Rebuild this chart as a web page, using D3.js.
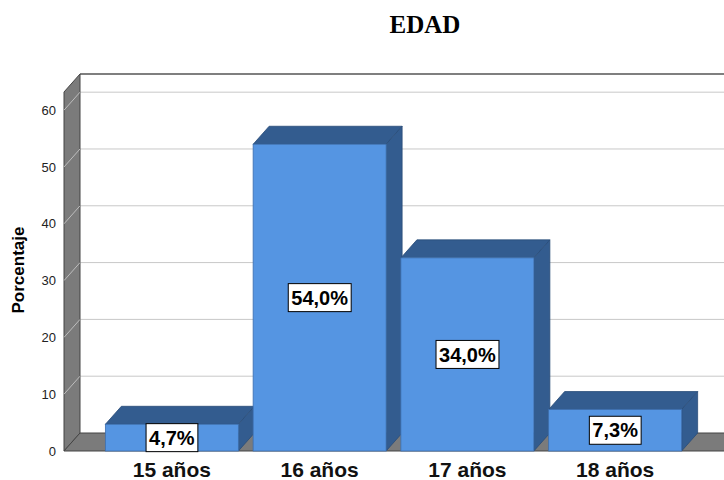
<!DOCTYPE html>
<html>
<head>
<meta charset="utf-8">
<script src="https://cdn.jsdelivr.net/npm/d3@7"></script>
<style>
  body { margin: 0; background: #fff; }
  svg { display: block; }
</style>
</head>
<body>
<div id="chart"></div>
<script>
// chart values
var categories = ["15 años", "16 años", "17 años", "18 años"];
var percentages = [4.7, 54.0, 34.0, 7.3];
var yTicks = [0, 10, 20, 30, 40, 50, 60];

var width = 724, height = 480;
var depthX = 16, depthY = -18;   // 3d offset towards the back wall

var svg = d3.select("#chart").append("svg")
    .attr("width", width)
    .attr("height", height);

var xScale = d3.scaleBand()
    .domain(categories)
    .range([64, 723])
    .paddingInner(0.1)
    .paddingOuter(0.28);

var yScale = d3.scaleLinear()
    .domain([0, 63.2])
    .range([451, 92]);

var fmt = d3.formatLocale({decimal: ",", thousands: ".", grouping: [3], currency: ["", "€"]}).format(".1f");

var x0 = xScale.range()[0], xEnd = width + 30;
var yTop = yScale(63.2), yBot = yScale(0);

// back wall
svg.append("rect")
    .attr("x", x0 + depthX).attr("y", yTop + depthY)
    .attr("width", xEnd).attr("height", yBot - yTop)
    .attr("fill", "#fff");

// gridlines on back wall
svg.append("g").selectAll("line")
    .data(yTicks.filter(function(d) { return d > 0; }))
    .join("line")
    .attr("x1", x0 + depthX).attr("x2", xEnd)
    .attr("y1", function(d) { return yScale(d) + depthY; })
    .attr("y2", function(d) { return yScale(d) + depthY; })
    .attr("stroke", "#c8c8c8").attr("stroke-width", 1);

// top edge of back wall
svg.append("line")
    .attr("x1", x0 + depthX).attr("x2", xEnd)
    .attr("y1", yTop + depthY).attr("y2", yTop + depthY)
    .attr("stroke", "#555").attr("stroke-width", 1.5);

// left side wall
svg.append("path")
    .attr("d", "M" + x0 + "," + yTop + "L" + (x0 + depthX) + "," + (yTop + depthY) +
        "L" + (x0 + depthX) + "," + (yBot + depthY) + "L" + x0 + "," + yBot + "Z")
    .attr("fill", "#7b7b7b").attr("stroke", "#444").attr("stroke-width", 1);

// diagonal grid on the side wall
svg.append("g").selectAll("line")
    .data(yTicks.filter(function(d) { return d > 0; }))
    .join("line")
    .attr("x1", x0).attr("x2", x0 + depthX)
    .attr("y1", function(d) { return yScale(d); })
    .attr("y2", function(d) { return yScale(d) + depthY; })
    .attr("stroke", "#bdbdbd").attr("stroke-width", 1);

// floor
svg.append("path")
    .attr("d", "M" + x0 + "," + yBot + "L" + (x0 + depthX) + "," + (yBot + depthY) +
        "L" + xEnd + "," + (yBot + depthY) + "L" + xEnd + "," + yBot + "Z")
    .attr("fill", "#7b7b7b").attr("stroke", "#444").attr("stroke-width", 1);

// bars
var bars = svg.append("g").selectAll("g")
    .data(percentages)
    .join("g");

bars.append("path") // top face
    .attr("d", function(d, i) {
        var bx = xScale(categories[i]), bw = xScale.bandwidth(), by = yScale(d);
        return "M" + bx + "," + by + "L" + (bx + depthX) + "," + (by + depthY) +
            "L" + (bx + bw + depthX) + "," + (by + depthY) + "L" + (bx + bw) + "," + by + "Z";
    })
    .attr("fill", "#335c8f").attr("stroke", "#2a4c78").attr("stroke-width", 0.8);

bars.append("path") // side face
    .attr("d", function(d, i) {
        var bx = xScale(categories[i]) + xScale.bandwidth(), by = yScale(d);
        return "M" + bx + "," + by + "L" + (bx + depthX) + "," + (by + depthY) +
            "L" + (bx + depthX) + "," + (yBot + depthY) + "L" + bx + "," + yBot + "Z";
    })
    .attr("fill", "#335c8f").attr("stroke", "#2a4c78").attr("stroke-width", 0.8);

bars.append("rect") // front face
    .attr("x", function(d, i) { return xScale(categories[i]); })
    .attr("y", function(d) { return yScale(d); })
    .attr("width", xScale.bandwidth())
    .attr("height", function(d) { return yBot - yScale(d); })
    .attr("fill", "#5595e2").attr("stroke", "#3d6fae").attr("stroke-width", 0.8);

// value labels
var labels = svg.append("g").selectAll("g")
    .data(percentages)
    .join("g")
    .attr("transform", function(d, i) {
        var cx = xScale(categories[i]) + xScale.bandwidth() / 2;
        var cy = (yScale(d) + yBot) / 2;
        return "translate(" + cx + "," + cy + ")";
    });

labels.append("text")
    .attr("text-anchor", "middle")
    .attr("dy", "0.36em")
    .style("font-family", "Liberation Sans, Arial, sans-serif")
    .style("font-weight", "bold")
    .style("font-size", "20px")
    .text(function(d) { return fmt(d) + "%"; })
    .each(function() {
        var b = this.getBBox();
        d3.select(this.parentNode).insert("rect", "text")
            .attr("x", b.x - 3).attr("y", -14)
            .attr("width", b.width + 6).attr("height", 28)
            .attr("fill", "#fff").attr("stroke", "#000").attr("stroke-width", 1);
    });

// y axis ticks
svg.append("g").selectAll("text")
    .data(yTicks)
    .join("text")
    .attr("x", 56)
    .attr("y", function(d) { return yScale(d); })
    .attr("dy", "0.35em")
    .attr("text-anchor", "end")
    .style("font-family", "Liberation Sans, Arial, sans-serif")
    .style("font-size", "13px")
    .attr("fill", "#222")
    .text(function(d) { return d; });

// category labels
svg.append("g").selectAll("text")
    .data(categories)
    .join("text")
    .attr("x", function(d) { return xScale(d) + xScale.bandwidth() / 2; })
    .attr("y", 477)
    .attr("text-anchor", "middle")
    .style("font-family", "Liberation Sans, Arial, sans-serif")
    .style("font-weight", "bold")
    .style("font-size", "21px")
    .attr("fill", "#111")
    .text(function(d) { return d; });

// y axis title
svg.append("text")
    .attr("transform", "translate(24,270) rotate(-90)")
    .attr("text-anchor", "middle")
    .style("font-family", "Liberation Sans, Arial, sans-serif")
    .style("font-weight", "bold")
    .style("font-size", "17px")
    .text("Porcentaje");

// title
svg.append("text")
    .attr("x", 425).attr("y", 33)
    .attr("text-anchor", "middle")
    .style("font-family", "Liberation Serif, Times New Roman, serif")
    .style("font-weight", "bold")
    .style("font-size", "25px")
    .text("EDAD");
</script>
</body>
</html>
